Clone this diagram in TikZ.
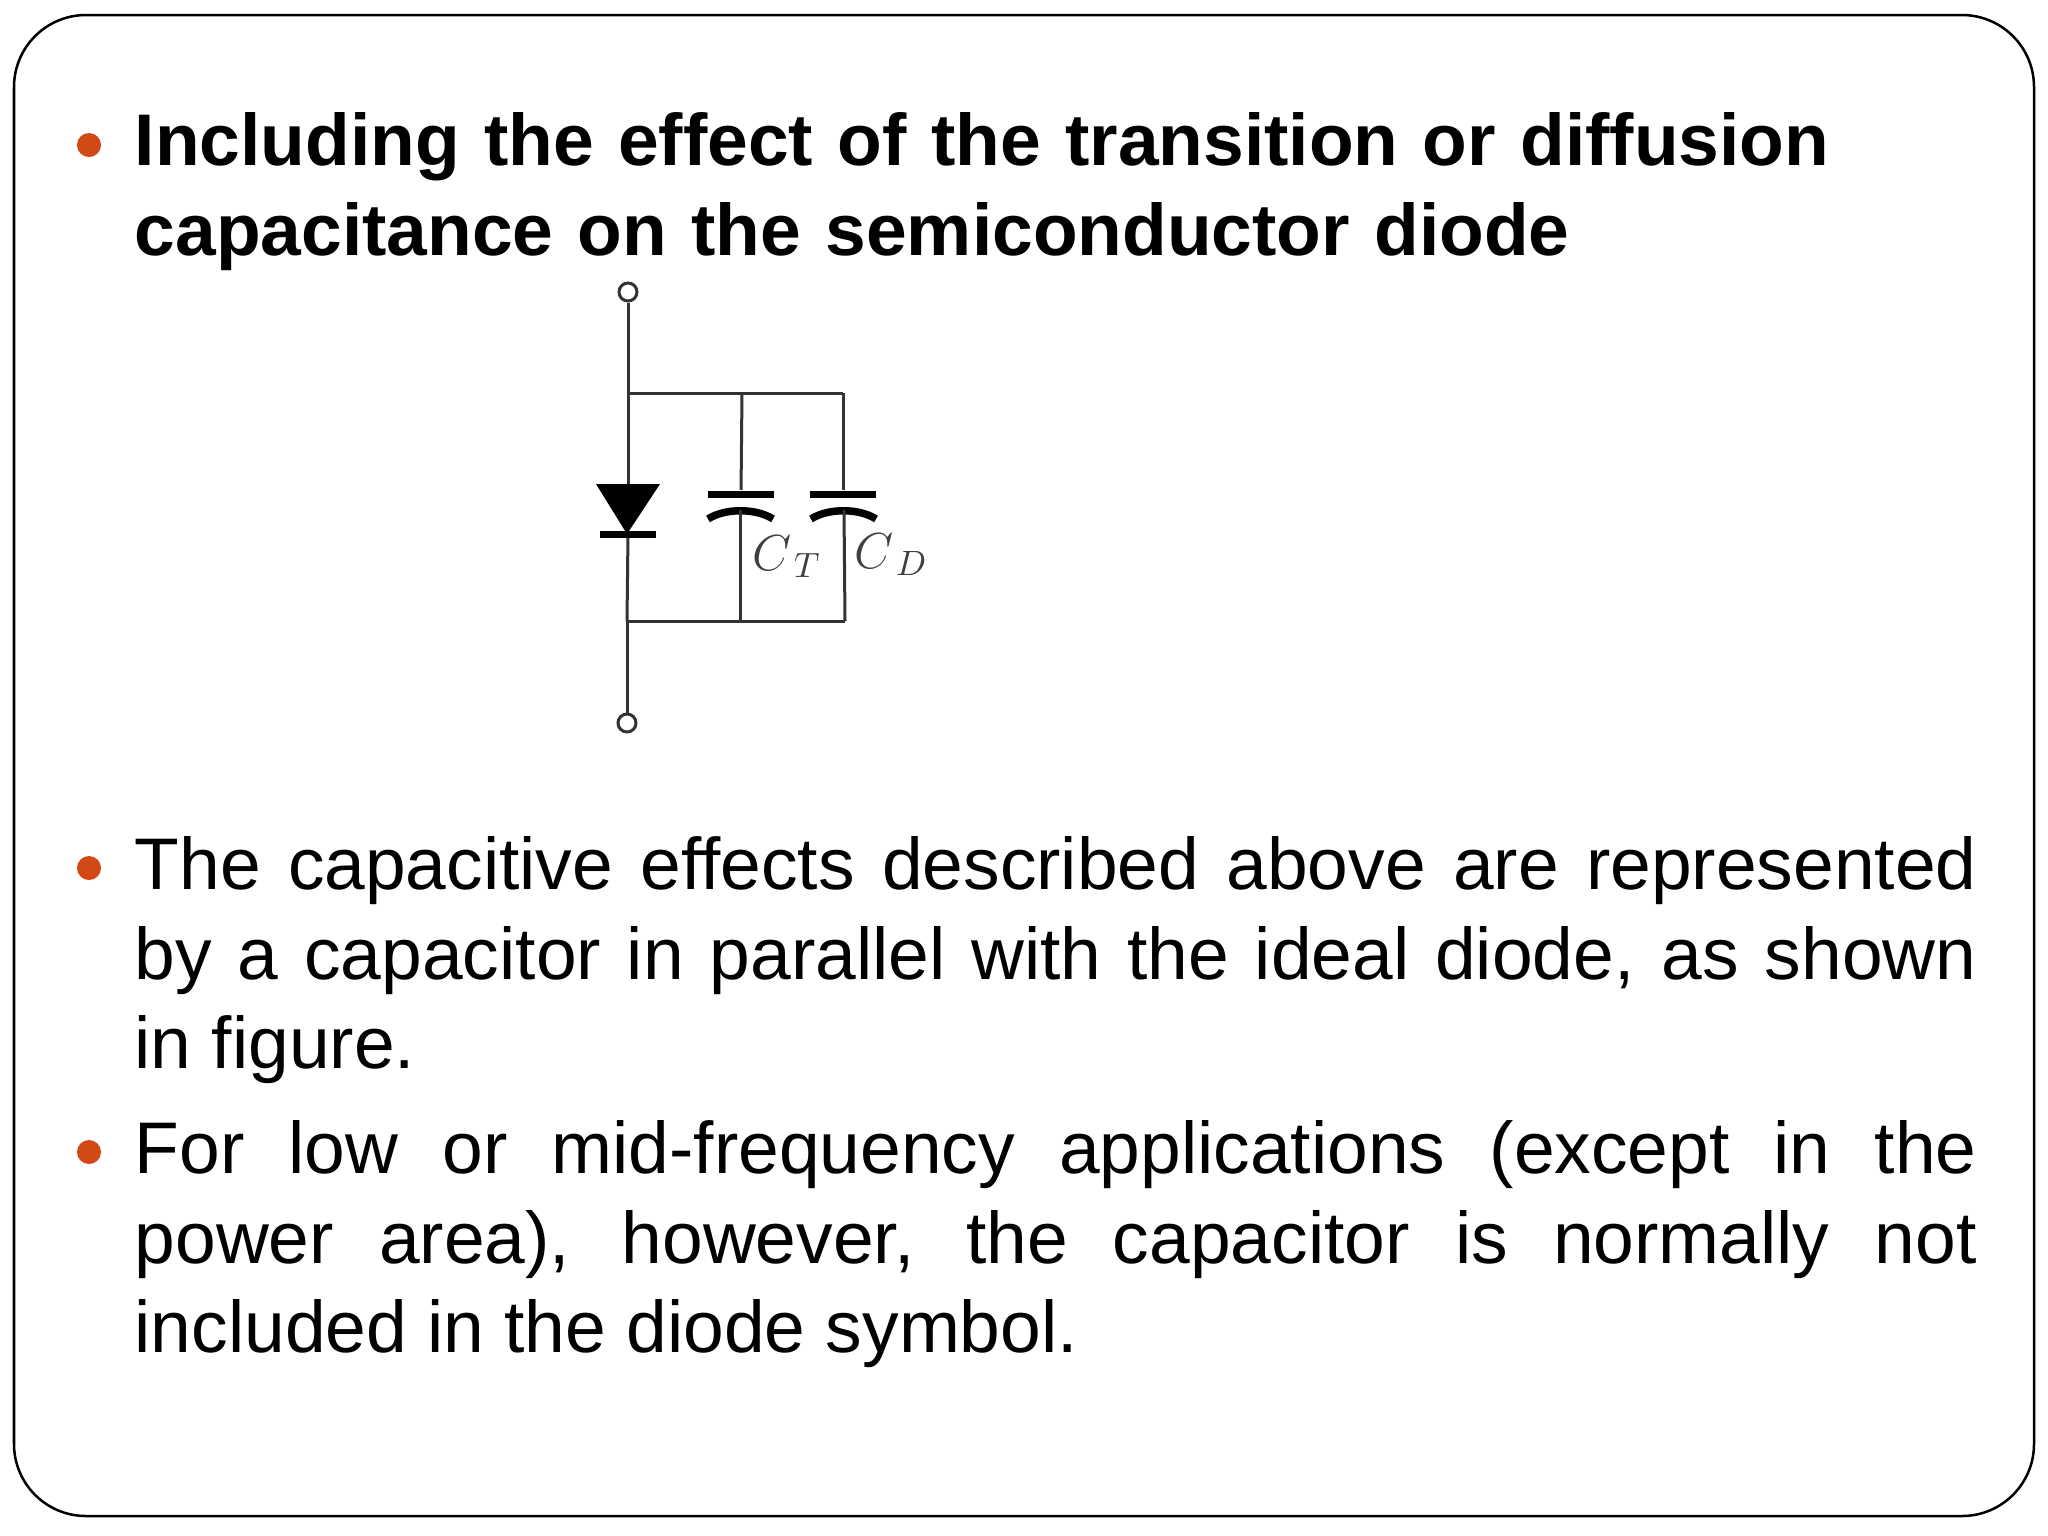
\documentclass[tikz,border=0pt]{standalone}
\usepackage{fontspec}
\setmainfont{Liberation Sans}
\definecolor{bulletred}{HTML}{D34817}
\tikzset{
  wire/.style={draw=black!80,line width=0.03cm},
  plate/.style={draw=none,fill=black,inner sep=0pt,minimum width=0.65cm,minimum height=0.07cm},
  terminal/.style={draw=black!80,circle,line width=0.03cm,inner sep=0pt,minimum size=0.18cm},
  bullet/.style={circle,fill=bulletred,inner sep=0pt,minimum size=0.24cm},
  para/.style={anchor=north west,inner sep=0pt,text width=18.41cm,align=justify,font=\fontsize{20.8}{25.4}\selectfont},
  caplabel/.style={inner sep=0pt,anchor=base west,font=\fontsize{14.4}{17}\selectfont,text=black!75}
}
\begin{document}
\begin{tikzpicture}[x=0.01cm,y=-0.01cm]
\useasboundingbox (0,0) rectangle (2048,1536);
\path[draw=black,line width=0.025cm,rounded corners=0.72cm] (14,15) rectangle (2034,1516);

\node[bullet] (b1) at (89,145) {};
\node[bullet] (b2) at (89,868) {};
\node[bullet] (b3) at (89,1152) {};

\node[para,font=\fontsize{20.8}{25.4}\selectfont\bfseries,align=left] (p1) at (134,112) {Including the effect of the transition or diffusion\\capacitance on the semiconductor diode};
\node[para] (p2) at (134,836) {The capacitive effects described above are represented\linebreak by a capacitor in parallel with the ideal diode, as shown\linebreak in figure.};
\node[para] (p3) at (134,1120) {For low or mid-frequency applications (except in the\linebreak power area), however, the capacitor is normally not\linebreak included in the diode symbol.};

\node[terminal] (tt) at (628,292) {};
\node[terminal] (tb) at (627,723) {};
\coordinate (jt) at (628,393);
\coordinate (jb) at (627,621);
\coordinate (jtt) at (742,393);
\coordinate (jtd) at (843,393);
\coordinate (jbt) at (740,621);
\coordinate (jbd) at (845,621);

\coordinate (dl) at (596,484);
\coordinate (dr) at (660,484);
\coordinate (dk) at (627,534);
\node[plate,minimum width=0.56cm] (bar) at (628,534) {};
\path[fill=black] (dl) -- (dr) -- (dk) -- cycle;

\node[plate] (ct1) at (741,494) {};
\node[plate] (cd1) at (843,494) {};
\coordinate (ct2l) at (708,519);
\coordinate (ct2r) at (773,519);
\coordinate (ct2) at (740,510);
\coordinate (cd2l) at (811,519);
\coordinate (cd2r) at (876,519);
\coordinate (cd2) at (844,510);
\path[draw,line width=0.075cm] (ct2l) .. controls (725,508) and (756,508) .. (ct2r);
\path[draw,line width=0.075cm] (cd2l) .. controls (828,508) and (859,508) .. (cd2r);

\path[wire] (tt) -- (jt);
\path[wire] (jt) -- (dl -| jt);
\path[wire] (bar) -- (jb);
\path[wire] (jb) -- (tb);
\path[wire] (jt) -- (jtt);
\path[wire] (jtt) -- (jtd);
\path[wire] (jb) -- (jbt);
\path[wire] (jbt) -- (jbd);
\path[wire] (jtt) -- (ct1);
\path[wire] (jtd) -- (cd1);
\path[wire] (ct2) -- (jbt);
\path[wire] (cd2) -- (jbd);

\node[caplabel] (lt) at (752,570) {$C_{\,T}$};
\node[caplabel] (ld) at (854,568) {$C_{\,D}$};
\end{tikzpicture}
\end{document}
